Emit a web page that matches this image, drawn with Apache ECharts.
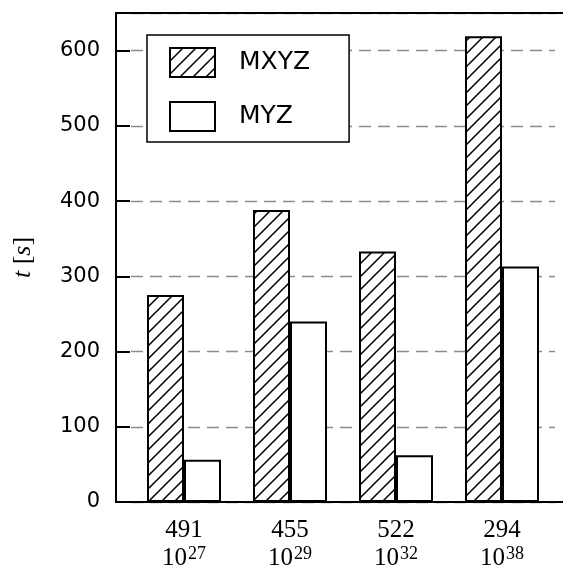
<!DOCTYPE html>
<html>
<head>
<meta charset="utf-8">
<script src="https://cdn.jsdelivr.net/npm/echarts@6/dist/echarts.min.js"></script>
<style>
  html, body { margin: 0; padding: 0; background: #fff; }
  #chart { width: 563px; height: 572px; }
</style>
</head>
<body>
<div id="chart"></div>
<script>
const counts = ['491', '455', '522', '294']
const exponents = ['27', '29', '32', '38']
const mxyzTimes = [275, 388, 333, 619]
const myzTimes = [56, 240, 62, 313]
const yTicks = [0, 100, 200, 300, 400, 500, 600]

// hatch fill for MXYZ bars
function makeHatch() {
  const s = 13
  const cv = document.createElement('canvas')
  cv.width = s
  cv.height = s
  const ctx = cv.getContext('2d')
  ctx.fillStyle = '#fff'
  ctx.fillRect(0, 0, s, s)
  ctx.strokeStyle = '#000'
  ctx.lineWidth = 1.5
  ctx.beginPath()
  ctx.moveTo(-1, s + 1); ctx.lineTo(s + 1, -1)
  ctx.moveTo(-2, 2); ctx.lineTo(2, -2)
  ctx.moveTo(s - 2, s + 2); ctx.lineTo(s + 2, s - 2)
  ctx.stroke()
  return cv
}

const chart = echarts.init(document.getElementById('chart'))
const axisColor = '#000'
const serif = 'Liberation Serif'

chart.setOption({
  animation: false,
  grid: [
    { left: 131, right: 8, top: 13, bottom: 70 },
    { left: 116, right: 0, top: 13, bottom: 70 }
  ],
  legend: {
    orient: 'vertical',
    left: 147,
    top: 35,
    padding: [12, 39, 10, 22],
    itemWidth: 45,
    itemHeight: 29,
    itemGap: 23,
    icon: 'rect',
    backgroundColor: '#fff',
    borderColor: '#000',
    borderWidth: 1.5,
    borderRadius: 0,
    textStyle: {
      fontFamily: 'DejaVu Sans',
      fontSize: 25,
      color: '#000',
      padding: [0, 0, 0, 19]
    },
    data: ['MXYZ', 'MYZ']
  },
  xAxis: [
    {
      type: 'category',
      gridIndex: 0,
      data: counts,
      axisLine: { show: false },
      axisTick: { show: false },
      axisLabel: {
        margin: 14,
        formatter: (v, i) => '{n|' + v + '}\n{b|10}{s|' + exponents[i] + '}',
        rich: {
          n: { fontFamily: serif, fontSize: 25, color: '#000', lineHeight: 28 },
          b: { fontFamily: serif, fontSize: 25, color: '#000', lineHeight: 28 },
          s: { fontFamily: serif, fontSize: 18, color: '#000', padding: [0, 0, 8, 1] }
        }
      }
    },
    {
      type: 'value', gridIndex: 1, position: 'bottom', min: 0, max: 1,
      axisLine: { show: true, lineStyle: { color: axisColor, width: 2 } },
      axisTick: { show: false }, axisLabel: { show: false }, splitLine: { show: false }
    },
    {
      type: 'value', gridIndex: 1, position: 'top', min: 0, max: 1,
      axisLine: { show: true, lineStyle: { color: axisColor, width: 2 } },
      axisTick: { show: false }, axisLabel: { show: false }, splitLine: { show: false }
    }
  ],
  yAxis: [
    {
      type: 'value',
      gridIndex: 0,
      min: 0,
      max: 650,
      interval: 100,
      offset: 15,
      name: '{i|t} {r|[}{i|s}{r|]}',
      nameLocation: 'middle',
      nameGap: 80,
      nameRotate: 90,
      nameTextStyle: {
        fontFamily: serif,
        fontSize: 26,
        color: '#000',
        rich: {
          i: { fontFamily: serif, fontStyle: 'italic', fontSize: 26, color: '#000' },
          r: { fontFamily: serif, fontSize: 26, color: '#000' }
        }
      },
      axisLine: { show: false },
      axisTick: { show: true, inside: true, length: 14, lineStyle: { color: axisColor, width: 2 } },
      axisLabel: {
        showMaxLabel: false,
        margin: 16,
        fontFamily: 'DejaVu Sans',
        fontSize: 21,
        color: '#000',
        formatter: v => (yTicks.indexOf(v) >= 0 ? String(v) : '')
      },
      splitLine: { show: true, lineStyle: { color: '#8c8c8c', width: 1.3, type: [12, 7] } }
    },
    {
      type: 'value', gridIndex: 1, min: 0, max: 1,
      axisLine: { show: true, lineStyle: { color: axisColor, width: 2 } },
      axisTick: { show: false }, axisLabel: { show: false }, splitLine: { show: false }
    }
  ],
  series: [
    {
      name: 'MXYZ',
      type: 'bar',
      xAxisIndex: 0,
      yAxisIndex: 0,
      barWidth: 37,
      barGap: '0%',
      data: mxyzTimes,
      itemStyle: {
        color: { image: makeHatch(), repeat: 'repeat' },
        borderColor: '#000',
        borderWidth: 2
      }
    },
    {
      name: 'MYZ',
      type: 'bar',
      xAxisIndex: 0,
      yAxisIndex: 0,
      barWidth: 37,
      barGap: '0%',
      data: myzTimes,
      itemStyle: { color: '#fff', borderColor: '#000', borderWidth: 2 }
    }
  ]
})
</script>
</body>
</html>
